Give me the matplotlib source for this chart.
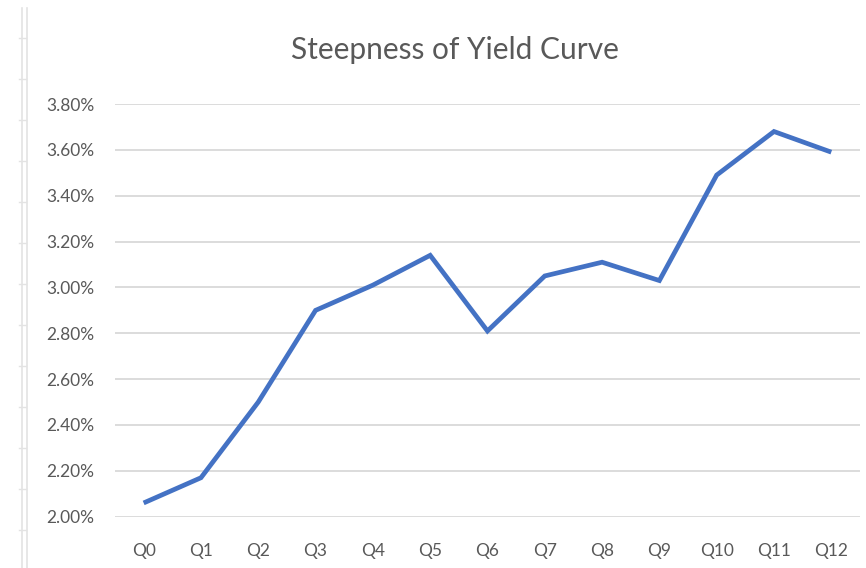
import matplotlib
matplotlib.use("Agg")
import matplotlib.pyplot as plt
from matplotlib.lines import Line2D
from matplotlib.ticker import FuncFormatter, MultipleLocator

quarters = ["Q0", "Q1", "Q2", "Q3", "Q4", "Q5", "Q6", "Q7", "Q8", "Q9", "Q10", "Q11", "Q12"]
steepness = [2.06, 2.17, 2.50, 2.90, 3.01, 3.14, 2.81, 3.05, 3.11, 3.03, 3.49, 3.68, 3.59]
y_min, y_max, y_step = 2.00, 3.80, 0.20
title = "Steepness of Yield Curve"

plt.rcParams["font.family"] = ["Lato", "DejaVu Sans"]

fig = plt.figure(figsize=(8.66, 5.68), dpi=100)
fig.patch.set_facecolor("white")
ax = fig.add_axes([0.1328, 0.0903, 0.8602, 0.7266])

x = list(range(len(quarters)))
ax.plot(x, steepness, color="#4472C4", linewidth=3.4, solid_joinstyle="miter",
        solid_capstyle="butt", zorder=3)

ax.set_xlim(-0.5, len(quarters) - 0.5)
ax.set_ylim(y_min, y_max)
ax.yaxis.set_major_locator(MultipleLocator(y_step))
ax.yaxis.set_major_formatter(FuncFormatter(lambda v, _: f"{v:.2f}%"))
ax.set_xticks(x)
ax.set_xticklabels(quarters)

ax.grid(axis="y", color="#D9D9D9", linewidth=1.3)
ax.set_axisbelow(True)
for s in ax.spines.values():
    s.set_visible(False)
ax.tick_params(axis="both", length=0, colors="#595959", labelsize=12.5)
ax.tick_params(axis="x", pad=19)
ax.tick_params(axis="y", pad=15)

fig.text(0.525, 0.912, title, ha="center", va="center", fontsize=21.5, color="#595959")

# sheet ruler down the left edge
for xp in (21.5, 26.5):
    fig.add_artist(Line2D([xp / 866, xp / 866], [0, 1 - 8 / 568],
                          color="#E3E3E3", linewidth=1.2))
for yp in range(38, 568, 41):
    fig.add_artist(Line2D([19 / 866, 26 / 866], [1 - yp / 568, 1 - yp / 568],
                          color="#E3E3E3", linewidth=1.0))

fig.savefig("out.png", dpi=100, facecolor="white")
